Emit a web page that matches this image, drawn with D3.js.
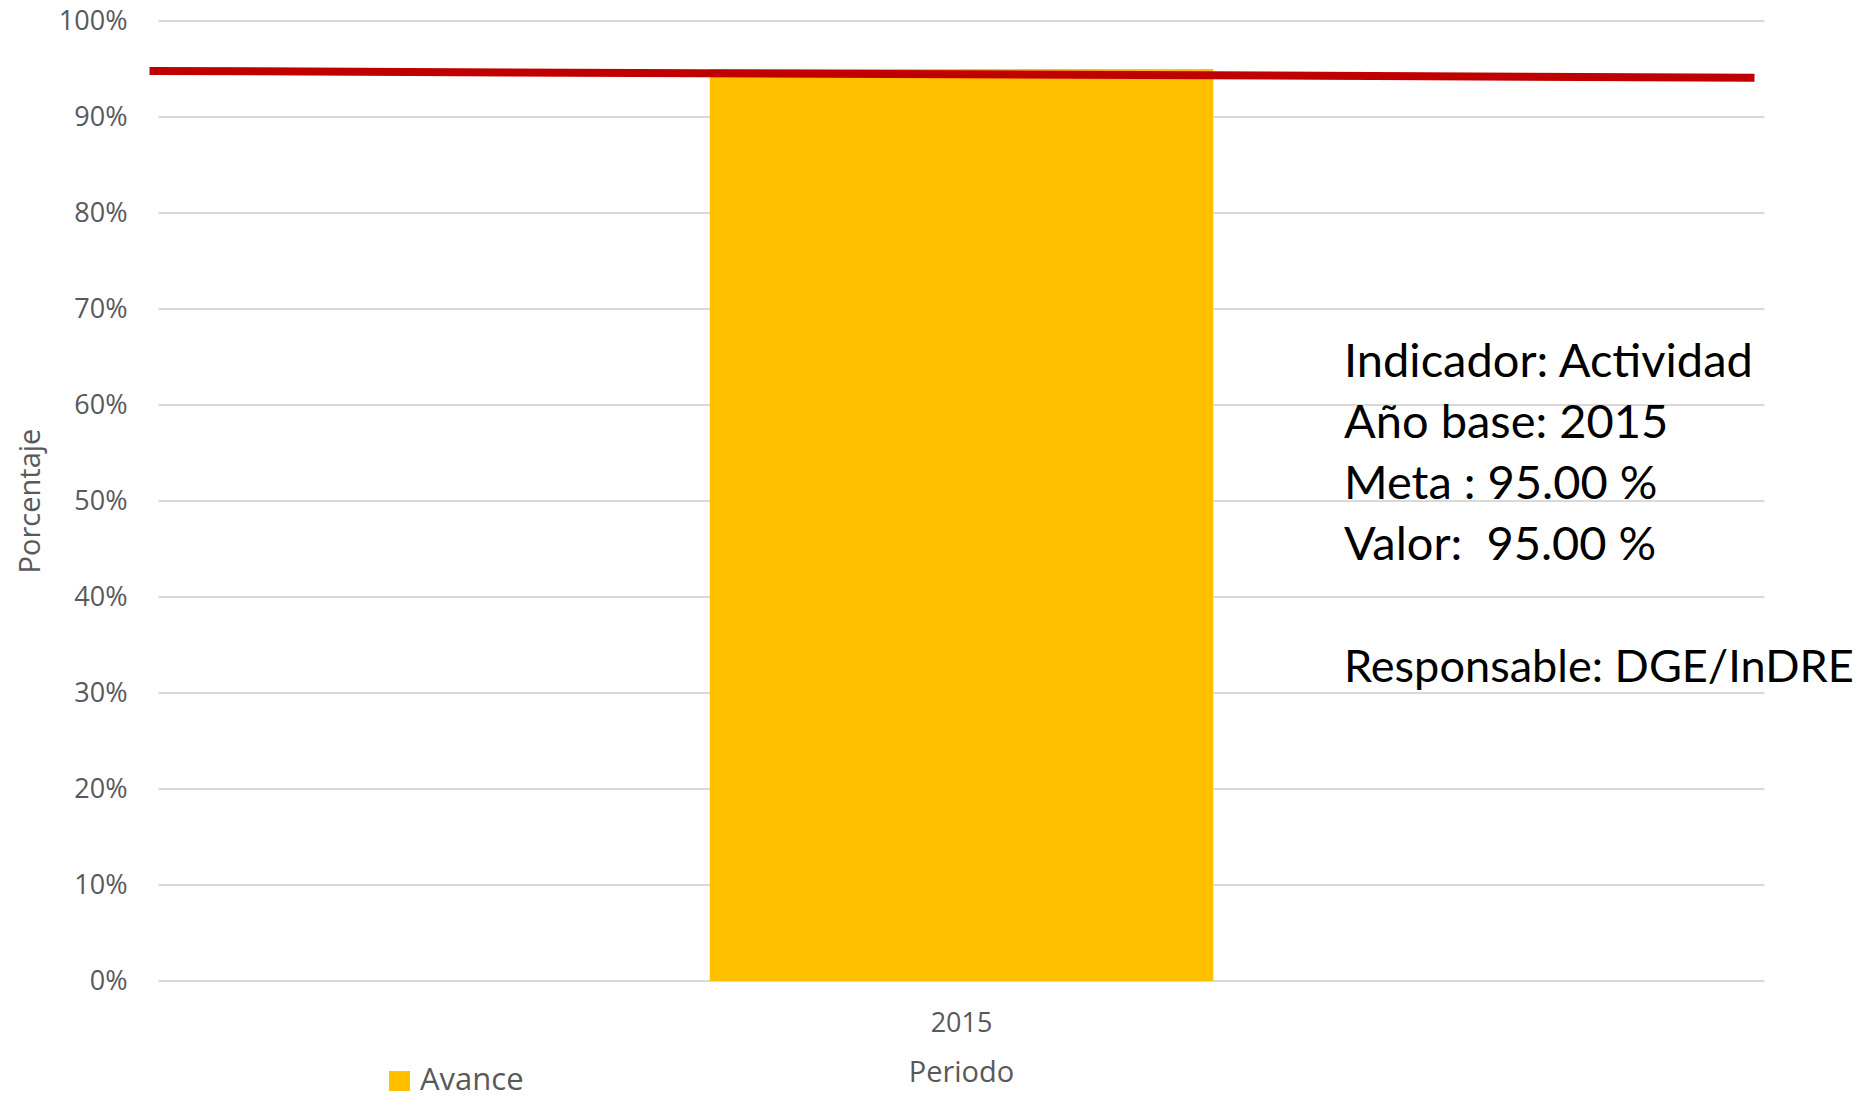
<!DOCTYPE html>
<html>
<head>
<meta charset="utf-8">
<script src="https://cdn.jsdelivr.net/npm/d3@7"></script>
<style>
  body { margin: 0; background: #fff; }
  svg { display: block; }
</style>
</head>
<body>
<div id="visualization"></div>
<script>
// data
const periods = ["2015"];
const avance = [95];
const metaLine = [94.8, 94.1];   // red target line, left end / right end
const yTicks = [0, 10, 20, 30, 40, 50, 60, 70, 80, 90, 100];
const infoLines = ["Indicador: Actividad", "Año base: 2015", "Meta : 95.00 %", "Valor:  95.00 %", "", "Responsable: DGE/InDRE"];

const width = 1870, height = 1100;
const margin = { top: 21, right: 105.5, bottom: 119, left: 158.5 };
const w = width - margin.left - margin.right;
const h = height - margin.top - margin.bottom;
const tickFont = "'Open Sans', sans-serif";

const svg = d3.select("#visualization")
    .append("svg")
    .attr("width", width)
    .attr("height", height);

const g = svg.append("g")
    .attr("transform", `translate(${margin.left},${margin.top})`);

const x = d3.scaleBand()
    .domain(periods)
    .range([0, w])
    .padding(0.5226);

const y = d3.scaleLinear()
    .domain([0, 100])
    .range([h, 0]);

// gridlines
g.selectAll(".grid")
    .data(yTicks)
    .join("line")
    .attr("x1", 0)
    .attr("x2", w)
    .attr("y1", d => y(d))
    .attr("y2", d => y(d))
    .attr("stroke", "#d9d9d9")
    .attr("stroke-width", 2);

// y axis labels
const yAxis = g.append("g")
    .call(d3.axisLeft(y).tickValues(yTicks).tickFormat(d => d + "%").tickSize(0).tickPadding(31));
yAxis.select(".domain").remove();
yAxis.selectAll("text")
    .attr("fill", "#595959")
    .style("font-family", tickFont)
    .style("font-size", "27px");

// bars
g.selectAll(".bar")
    .data(avance)
    .join("rect")
    .attr("x", (d, i) => x(periods[i]))
    .attr("y", d => y(d))
    .attr("width", x.bandwidth())
    .attr("height", d => h - y(d))
    .attr("fill", "#ffc000");

// x axis labels
const xAxis = g.append("g")
    .attr("transform", `translate(0,${h})`)
    .call(d3.axisBottom(x).tickSize(0).tickPadding(32));
xAxis.select(".domain").remove();
xAxis.selectAll("text")
    .attr("fill", "#595959")
    .style("font-family", tickFont)
    .style("font-size", "27px");

// meta line
g.append("line")
    .attr("x1", x.range()[0] - 9)
    .attr("x2", x.range()[1] - 10)
    .attr("y1", y(metaLine[0]))
    .attr("y2", y(metaLine[1]))
    .attr("stroke", "#c00000")
    .attr("stroke-width", 8);

// axis titles
svg.append("text")
    .attr("transform", `translate(40, ${margin.top + h / 2}) rotate(-90)`)
    .attr("text-anchor", "middle")
    .attr("fill", "#595959")
    .style("font-family", tickFont)
    .style("font-size", "29px")
    .text("Porcentaje");

svg.append("text")
    .attr("x", margin.left + w / 2)
    .attr("y", 1082)
    .attr("text-anchor", "middle")
    .attr("fill", "#595959")
    .style("font-family", tickFont)
    .style("font-size", "29px")
    .text("Periodo");

// legend
const legend = svg.append("g").attr("transform", "translate(389, 1071)");
legend.append("rect")
    .attr("width", 21)
    .attr("height", 20)
    .attr("fill", "#ffc000");
legend.append("text")
    .attr("x", 31)
    .attr("y", 19)
    .attr("fill", "#595959")
    .style("font-family", tickFont)
    .style("font-size", "31px")
    .text("Avance");

// info text box
const infoX = 1344;
const infoMax = width - 16 - infoX;
const infoSize = 47;
svg.append("g")
    .selectAll("text")
    .data(infoLines)
    .join("text")
    .attr("x", infoX)
    .attr("y", (d, i) => 377 + i * 61)
    .attr("fill", "#000")
    .style("white-space", "pre")
    .style("font-family", "Lato, 'Liberation Sans', sans-serif")
    .style("font-size", infoSize + "px")
    .text(d => d)
    .each(function () {
        // shrink a line that would run off the right edge
        const len = this.getComputedTextLength();
        if (len > infoMax) {
            d3.select(this).style("font-size", (infoSize * infoMax / len) + "px");
        }
    });
</script>
</body>
</html>
